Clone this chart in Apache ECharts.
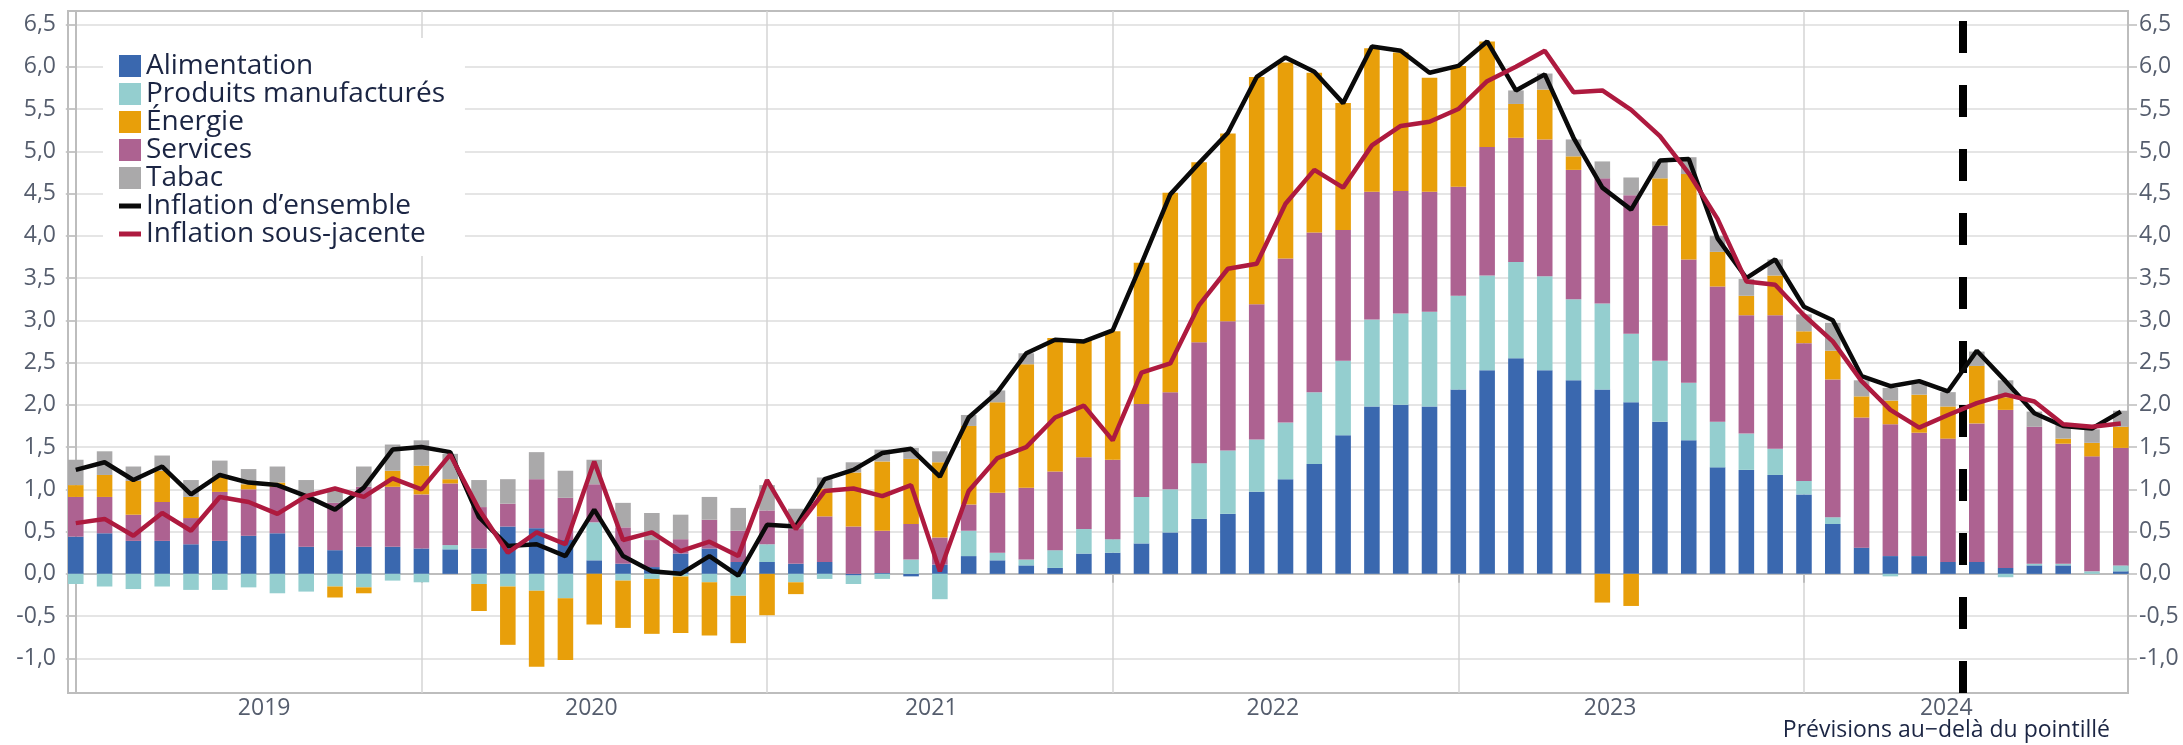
<!DOCTYPE html>
<html>
<head>
    <meta charset="utf-8">
    <script src="https://cdn.jsdelivr.net/npm/echarts@6/dist/echarts.min.js"></script>
    <style>html, body { margin: 0; padding: 0; background: #fff; }</style>
</head>
<body>
    <div id="main" style="width: 2183px;height:745px;"></div>
    <script type="text/javascript">
        // années et mois (catégories)
        var years = ['2019', '2020', '2021', '2022', '2023', '2024'];
        var months = [];
        years.forEach(function (y) {
            for (var m = 1; m <= 12; m++) {
                months.push(y + '-' + (m < 10 ? '0' + m : m));
            }
        });
        var derniereObs = '2024-06';
        var yTicks = [-1.0, -0.5, 0.0, 0.5, 1.0, 1.5, 2.0, 2.5, 3.0, 3.5, 4.0, 4.5, 5.0, 5.5, 6.0, 6.5];

        // contributions (points de %)
        var alimentation = [
            0.44, 0.48, 0.39, 0.39, 0.35, 0.39, 0.45, 0.48, 0.32, 0.28, 0.32, 0.32,
            0.30, 0.29, 0.30, 0.56, 0.54, 0.40, 0.16, 0.12, 0.08, 0.24, 0.30, 0.14,
            0.14, 0.12, 0.14, -0.02, 0.01, -0.03, 0.11, 0.21, 0.16, 0.10, 0.07, 0.24,
            0.25, 0.36, 0.49, 0.65, 0.71, 0.97, 1.12, 1.30, 1.64, 1.98, 2.00, 1.98,
            2.18, 2.41, 2.55, 2.41, 2.29, 2.18, 2.03, 1.80, 1.58, 1.26, 1.23, 1.17,
            0.94, 0.59, 0.31, 0.21, 0.21, 0.14, 0.14, 0.07, 0.10, 0.10, 0.00, 0.03
        ];
        var manufactures = [
            -0.12, -0.15, -0.18, -0.15, -0.19, -0.19, -0.16, -0.23, -0.21, -0.15, -0.16, -0.08,
            -0.10, 0.05, -0.12, -0.15, -0.20, -0.29, 0.45, -0.08, -0.06, -0.03, -0.10, -0.26,
            0.21, -0.10, -0.06, -0.10, -0.06, 0.17, -0.30, 0.30, 0.09, 0.07, 0.21, 0.29,
            0.16, 0.55, 0.51, 0.66, 0.75, 0.62, 0.67, 0.85, 0.88, 1.03, 1.08, 1.12,
            1.11, 1.12, 1.14, 1.11, 0.96, 1.02, 0.81, 0.72, 0.68, 0.54, 0.43, 0.31,
            0.16, 0.08, 0.00, -0.03, 0.00, 0.00, 0.00, -0.04, 0.02, 0.02, 0.03, 0.07
        ];
        var energie = [
            0.14, 0.26, 0.40, 0.37, 0.25, 0.18, 0.06, 0.05, 0.00, -0.13, -0.07, 0.19,
            0.34, 0.05, -0.32, -0.69, -0.90, -0.73, -0.60, -0.56, -0.65, -0.67, -0.63, -0.56,
            -0.49, -0.14, 0.33, 0.64, 0.82, 0.77, 0.89, 0.93, 1.07, 1.46, 1.58, 1.38,
            1.52, 1.67, 2.36, 2.13, 2.22, 2.69, 2.32, 1.89, 1.50, 1.70, 1.64, 1.35,
            1.43, 1.25, 0.40, 0.59, 0.16, -0.34, -0.38, 0.56, 1.01, 0.41, 0.23, 0.47,
            0.14, 0.34, 0.25, 0.28, 0.45, 0.38, 0.68, 0.15, 0.00, 0.06, 0.16, 0.25
        ];
        var services = [
            0.47, 0.43, 0.31, 0.46, 0.31, 0.58, 0.55, 0.55, 0.57, 0.56, 0.71, 0.71,
            0.64, 0.73, 0.49, 0.27, 0.58, 0.50, 0.45, 0.43, 0.32, 0.17, 0.34, 0.37,
            0.40, 0.41, 0.54, 0.56, 0.50, 0.42, 0.32, 0.31, 0.71, 0.85, 0.93, 0.85,
            0.94, 1.10, 1.15, 1.43, 1.53, 1.60, 1.94, 1.89, 1.55, 1.51, 1.45, 1.42,
            1.29, 1.52, 1.47, 1.62, 1.53, 1.48, 1.64, 1.60, 1.46, 1.60, 1.40, 1.58,
            1.63, 1.63, 1.54, 1.56, 1.46, 1.46, 1.64, 1.87, 1.62, 1.42, 1.36, 1.39
        ];
        var tabac = [
            0.30, 0.28, 0.17, 0.18, 0.20, 0.19, 0.18, 0.19, 0.22, 0.15, 0.24, 0.31,
            0.30, 0.30, 0.32, 0.29, 0.32, 0.32, 0.29, 0.29, 0.32, 0.29, 0.27, 0.27,
            0.30, 0.24, 0.13, 0.12, 0.14, 0.13, 0.13, 0.13, 0.14, 0.13, 0.00, 0.00,
            0.00, 0.00, 0.00, 0.00, 0.00, 0.00, 0.00, 0.00, 0.00, 0.00, 0.00, 0.00,
            0.00, 0.00, 0.16, 0.19, 0.20, 0.20, 0.21, 0.20, 0.20, 0.19, 0.20, 0.19,
            0.20, 0.33, 0.19, 0.15, 0.14, 0.17, 0.17, 0.20, 0.18, 0.16, 0.16, 0.19
        ];
        // glissement annuel (%)
        var ensemble = [
            1.23, 1.32, 1.11, 1.27, 0.94, 1.17, 1.08, 1.05, 0.92, 0.76, 1.02, 1.47,
            1.50, 1.44, 0.67, 0.33, 0.35, 0.21, 0.76, 0.21, 0.03, 0.00, 0.21, -0.02,
            0.58, 0.56, 1.12, 1.23, 1.43, 1.48, 1.15, 1.85, 2.15, 2.61, 2.77, 2.75,
            2.88, 3.67, 4.49, 4.86, 5.22, 5.88, 6.11, 5.94, 5.57, 6.24, 6.19, 5.93,
            6.01, 6.30, 5.72, 5.91, 5.16, 4.57, 4.31, 4.89, 4.91, 3.97, 3.50, 3.72,
            3.16, 3.00, 2.34, 2.22, 2.28, 2.16, 2.64, 2.28, 1.90, 1.75, 1.72, 1.92
        ];
        var sousJacente = [
            0.60, 0.65, 0.45, 0.72, 0.51, 0.91, 0.85, 0.71, 0.92, 1.01, 0.91, 1.13,
            1.00, 1.41, 0.76, 0.25, 0.49, 0.35, 1.33, 0.40, 0.49, 0.27, 0.38, 0.21,
            1.11, 0.53, 0.98, 1.01, 0.92, 1.05, 0.03, 0.98, 1.37, 1.50, 1.85, 1.99,
            1.58, 2.38, 2.49, 3.18, 3.61, 3.67, 4.38, 4.78, 4.57, 5.07, 5.30, 5.35,
            5.50, 5.83, 6.00, 6.19, 5.70, 5.72, 5.49, 5.18, 4.74, 4.20, 3.46, 3.42,
            3.06, 2.75, 2.28, 1.94, 1.73, 1.88, 2.02, 2.12, 2.04, 1.77, 1.74, 1.78
        ];

        // mise en page
        var W = 2183;
        var gridA = { left: 68, right: 55, top: 11, bottom: 52 };
        var xMin = -0.27, xMax = 71.25;
        var yMin = -1.41, yMax = 6.66;
        var step = (W - gridA.left - gridA.right) / (xMax - xMin);
        var gridB = {
            left: gridA.left + (-0.5 - xMin) * step,
            right: gridA.right + (xMax - (months.length - 0.5)) * step,
            top: gridA.top, bottom: gridA.bottom
        };
        var janTicks = [0, 12, 24, 36, 48, 60];
        var yearLabelAt = [6.54, 17.9, 29.7, 41.56, 53.27, 64.94];
        var forecastStart = months.indexOf(derniereObs) + 0.5;

        var gris = '#bdbdbd';
        var texte = '#555d6d';
        var fonce = '#1b2543';

        function fmtY(v) {
            if (Math.abs(v * 2 - Math.round(v * 2)) > 1e-6) return '';
            return v.toFixed(1).replace('.', ',');
        }

        function barSerie(name, data, color) {
            return {
                name: name, type: 'bar', xAxisIndex: 1, yAxisIndex: 2,
                stack: 'contrib', barWidth: '54%',
                itemStyle: { color: color },
                emphasis: { disabled: true },
                data: data
            };
        }
        function lineSerie(name, data, color, z) {
            return {
                name: name, type: 'line', xAxisIndex: 1, yAxisIndex: 2,
                symbol: 'none', z: z,
                lineStyle: { width: 4.5, color: color },
                itemStyle: { color: color },
                emphasis: { disabled: true },
                data: data
            };
        }

        var myChart = echarts.init(document.getElementById('main'));
        var option = {
            animation: false,
            textStyle: { fontFamily: 'Open Sans' },
            title: {
                text: 'Prévisions au−delà du pointillé',
                right: 73, top: 719, padding: 0,
                textStyle: { fontSize: 23, fontWeight: 'normal', color: fonce, fontFamily: 'Open Sans' }
            },
            legend: {
                orient: 'vertical', left: 103, top: 38,
                padding: [14, 20, 8, 16], backgroundColor: '#fff',
                itemWidth: 22, itemHeight: 22, itemGap: 0,
                selectedMode: false,
                textStyle: { fontSize: 28, color: fonce, fontFamily: 'Open Sans' },
                data: [
                    { name: 'Alimentation', icon: 'rect' },
                    { name: 'Produits manufacturés', icon: 'rect' },
                    { name: 'Énergie', icon: 'rect' },
                    { name: 'Services', icon: 'rect' },
                    { name: 'Tabac', icon: 'rect' },
                    { name: 'Inflation d’ensemble', icon: 'path://M0,0H22V5H0Z' },
                    { name: 'Inflation sous-jacente', icon: 'path://M0,0H22V5H0Z' }
                ]
            },
            grid: [
                { left: gridA.left, right: gridA.right, top: gridA.top, bottom: gridA.bottom,
                  show: true, borderColor: gris, borderWidth: 2 },
                { left: gridB.left, right: gridB.right, top: gridB.top, bottom: gridB.bottom }
            ],
            xAxis: [
                {
                    type: 'value', gridIndex: 0, min: xMin, max: xMax, position: 'bottom',
                    axisLine: { show: true, lineStyle: { color: gris, width: 2 } },
                    axisTick: { show: true, customValues: janTicks, length: 9, lineStyle: { color: gris, width: 2 } },
                    splitLine: { show: true, lineStyle: { color: '#d4d4d4', width: 1.5 } },
                    axisLabel: {
                        customValues: yearLabelAt, margin: 4, fontSize: 23, color: texte,
                        formatter: function (v) { return years[Math.floor(v / 12)]; }
                    }
                },
                { type: 'category', gridIndex: 1, data: months, show: false }
            ],
            yAxis: [
                {
                    type: 'value', gridIndex: 0, position: 'left', min: yMin, max: yMax,
                    splitNumber: 16, minInterval: 0.5, maxInterval: 0.5,
                    axisLine: { show: true, lineStyle: { color: gris, width: 2 } },
                    axisTick: { show: true, customValues: yTicks, length: 10, lineStyle: { color: gris, width: 1.5 } },
                    axisLabel: { customValues: yTicks, margin: 12, fontSize: 23, color: texte, formatter: fmtY },
                    splitLine: { show: true, lineStyle: { color: '#dcdcdc', width: 1.5 } }
                },
                {
                    type: 'value', gridIndex: 0, position: 'right', min: yMin, max: yMax,
                    splitNumber: 16, minInterval: 0.5, maxInterval: 0.5,
                    axisLine: { show: true, lineStyle: { color: gris, width: 2 } },
                    axisTick: { show: true, customValues: yTicks, length: 9, lineStyle: { color: gris, width: 1.5 } },
                    axisLabel: { customValues: yTicks, margin: 11, fontSize: 23, color: texte, formatter: fmtY },
                    splitLine: { show: false }
                },
                { type: 'value', gridIndex: 1, min: yMin, max: yMax, show: false }
            ],
            series: [
                barSerie('Alimentation', alimentation, '#3a68af'),
                barSerie('Produits manufacturés', manufactures, '#94cecf'),
                barSerie('Services', services, '#ad6291'),
                barSerie('Énergie', energie, '#e89f0a'),
                barSerie('Tabac', tabac, '#aaa9aa'),
                lineSerie('Inflation d’ensemble', ensemble, '#0a0a0a', 5),
                lineSerie('Inflation sous-jacente', sousJacente, '#ae1a3f', 6),
                {
                    name: 'pointillé', type: 'line', xAxisIndex: 0, yAxisIndex: 0, z: 10,
                    data: [],
                    markLine: {
                        silent: true, symbol: ['none', 'none'],
                        label: { show: false },
                        lineStyle: { color: '#000', width: 8, type: [32, 32] },
                        emphasis: { disabled: true },
                        data: [{ xAxis: forecastStart }]
                    }
                }
            ]
        };
        myChart.setOption(option);
    </script>
</body>
</html>
